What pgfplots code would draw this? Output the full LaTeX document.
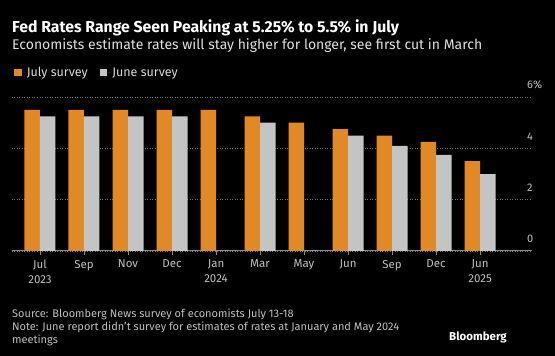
\documentclass[border=0pt]{standalone}
\usepackage{pgfplots}
\pgfplotsset{compat=1.18}
\usepackage{fontspec}
\setmainfont{Fira Sans}
\definecolor{bborange}{RGB}{224,137,38}
\definecolor{bbgray}{RGB}{196,196,196}
\definecolor{txtgray}{RGB}{190,190,190}
\definecolor{gridgray}{RGB}{115,115,115}
\definecolor{axisgray}{RGB}{135,135,135}
\begin{document}
\begin{tikzpicture}[x=1pt,y=1pt]
\fill[black] (0,0) rectangle (555,356);
\useasboundingbox (0,0) rectangle (555,356);
\node[anchor=base west, inner sep=0, text=white, font=\fontsize{15.8}{18}\selectfont\bfseries] at (12,323) {Fed Rates Range Seen Peaking at 5.25\% to 5.5\% in July};
\node[anchor=base west, inner sep=0, text=white!88!black, font=\fontsize{14}{17}\selectfont] at (12,306) {Economists estimate rates will stay higher for longer, see first cut in March};
\node[anchor=base west, inner sep=0, text=txtgray, font=\fontsize{11}{13}\selectfont] at (12,38) {Source: Bloomberg News survey of economists July 13-18};
\node[anchor=base west, inner sep=0, text=txtgray, font=\fontsize{11}{13}\selectfont] at (12,25) {Note: June report didn't survey for estimates of rates at January and May 2024};
\node[anchor=base west, inner sep=0, text=txtgray, font=\fontsize{11}{13}\selectfont] at (12,12) {meetings};
\node[anchor=base east, inner sep=0, text=white, font=\fontsize{11.5}{13}\selectfont\bfseries] at (507,15) {Bloomberg};
\begin{axis}[
  at={(12pt,105pt)}, anchor=south west,
  scale only axis, width=520pt, height=154pt,
  xmin=-0.636, xmax=11.18, ymin=0, ymax=6,
  separate axis lines,
  axis x line*=bottom, axis y line*=right,
  x axis line style={draw=axisgray, line width=1pt, -},
  y axis line style={draw=none},
  ytick={0,2,4,6}, yticklabels={0,2,4,6\%},
  ytick style={draw=none},
  yticklabel style={anchor=south west, inner sep=0, xshift=-9pt, yshift=8pt, text=txtgray, font=\fontsize{11}{13}\selectfont},
  xtick={0,...,10},
  xticklabels={{Jul\\2023},Sep,Nov,Dec,{Jan\\2024},Mar,May,Jun,Sep,Dec,{Jun\\2025}},
  xticklabel style={align=center, text=txtgray, font=\fontsize{11.5}{15}\selectfont, yshift=-1.5pt},
  xtick style={draw=axisgray, line width=0.8pt},
  tick align=outside, major tick length=4pt,
  ymajorgrids, grid style={draw=gridgray, line width=0.6pt, dash pattern=on 1pt off 1.5pt},
  ybar=0pt, bar width=15.5pt,
  legend columns=2,
  legend style={at={(0.004,1.208)}, anchor=north west, draw=none, fill=none, text=white!85!black, font=\fontsize{12.5}{13}\selectfont, inner sep=0pt, /tikz/every even column/.append style={column sep=10pt}},
  legend image code/.code={\fill[#1] (0pt,-3.5pt) rectangle (7.5pt,4pt); \path (0pt,0pt) -- (10.5pt,0pt);},
]
\addplot[fill=bborange, draw=none] coordinates {(0,5.5) (1,5.5) (2,5.5) (3,5.5) (4,5.5) (5,5.25) (6,5.0) (7,4.75) (8,4.5) (9,4.25) (10,3.5)};
\addlegendentry{July survey}
\addplot[fill=bbgray, draw=none] coordinates {(0,5.25) (1,5.25) (2,5.25) (3,5.25) (4,0) (5,5.0) (6,0) (7,4.5) (8,4.1) (9,3.75) (10,3.0)};
\addlegendentry{June survey}
\end{axis}
\end{tikzpicture}
\end{document}
